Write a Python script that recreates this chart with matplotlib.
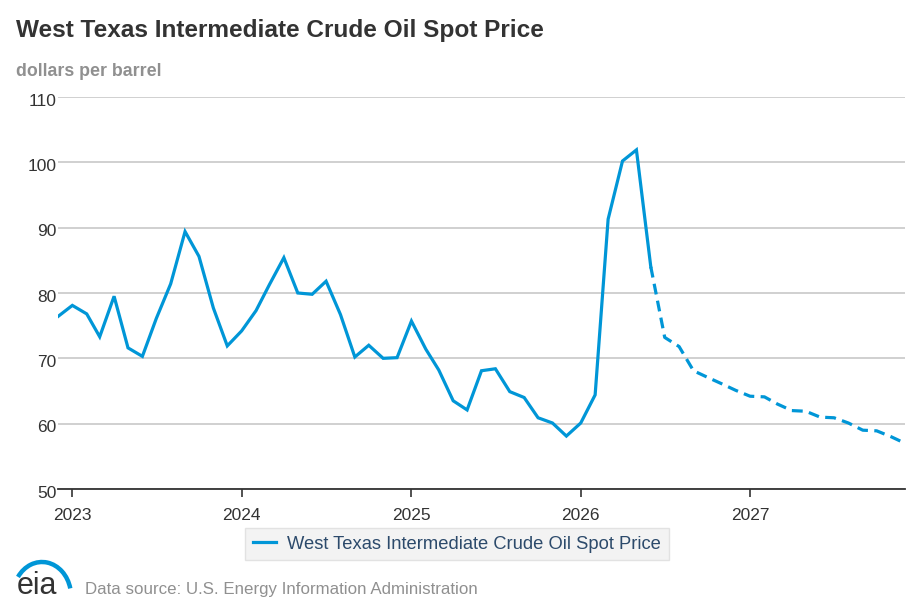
import numpy as np
import pandas as pd
import matplotlib
matplotlib.use("Agg")
import matplotlib.pyplot as plt
import matplotlib.dates as mdates
import matplotlib.transforms as mtransforms
from matplotlib.patches import Arc
from matplotlib.lines import Line2D

plt.rcParams['font.family'] = ['Liberation Sans', 'DejaVu Sans']

# monthly WTI spot price, Dec 2022 - Dec 2027 (dollars per barrel)
months = pd.date_range('2022-12-01', '2027-12-01', freq='MS')
price = [76.4,
         78.1, 76.8, 73.3, 79.5, 71.6, 70.3, 76.1, 81.4, 89.4, 85.6, 77.7, 71.9,
         74.2, 77.3, 81.3, 85.4, 80.0, 79.8, 81.8, 76.7, 70.2, 72.0, 70.0, 70.1,
         75.7, 71.4, 68.2, 63.5, 62.1, 68.1, 68.4, 64.9, 64.0, 60.9, 60.1, 58.1,
         60.1, 64.4, 91.3, 100.2, 101.9, 84.0, 73.2, 71.8, 68.1, 67.1, 66.1, 65.1,
         64.2, 64.1, 63.0, 62.0, 61.9, 61.0, 60.9, 60.1, 59.0, 58.9, 58.0, 57.0]
last_hist = pd.Timestamp('2026-06-01')   # forecast starts after this month
series_name = 'West Texas Intermediate Crude Oil Spot Price'
yticks = [50, 60, 70, 80, 90, 100, 110]

df = pd.DataFrame({'date': months, 'price': price})
hist = df[df['date'] <= last_hist]
fcst = df[df['date'] >= last_hist]

blue = '#0096d7'
fig = plt.figure(figsize=(9.2, 6.13), dpi=100)
ax = fig.add_axes([0.063, 0.2023, 0.9207, 0.6395])

ax.plot(hist['date'], hist['price'], color=blue, lw=2.3, solid_joinstyle='miter')
fl, = ax.plot(fcst['date'], fcst['price'], color=blue, lw=2.3)
fl.set_dashes([3.4, 2.0])

ax.set_xlim(months[0], months[-1])
ax.set_ylim(50, 110)
ax.set_yticks(yticks)
ax.grid(axis='y', color='#c8c8c8', lw=1.2)
ax.set_axisbelow(True)
for s in ['top', 'right', 'left']:
    ax.spines[s].set_visible(False)
ax.spines['bottom'].set_color('#333333')
ax.spines['bottom'].set_linewidth(1.3)

ax.xaxis.set_major_locator(mdates.YearLocator())
ax.xaxis.set_major_formatter(mdates.DateFormatter('%Y'))
ax.tick_params(axis='x', length=6, width=1.2, color='#333333', labelsize=12.5,
               labelcolor='#333333', pad=8)
ax.tick_params(axis='y', length=0, labelsize=12.5, labelcolor='#333333', pad=1)
# y labels sit a touch below their gridlines
shift = mtransforms.ScaledTranslation(0, -2 / 72, fig.dpi_scale_trans)
for lab in ax.get_yticklabels():
    lab.set_transform(lab.get_transform() + shift)

fig.text(0.017, 0.951, 'West Texas Intermediate Crude Oil Spot Price', fontsize=17.6,
         fontweight='bold', color='#333333', va='center')
fig.text(0.017, 0.884, 'dollars per barrel', fontsize=12.8, fontweight='bold',
         color='#909090', va='center')

handle = Line2D([], [], color=blue, lw=2.3)
leg = fig.legend([handle], [series_name], loc='center', bbox_to_anchor=(0.4967, 0.1125),
                 fontsize=13.2, frameon=True, fancybox=False, handlelength=1.3,
                 handletextpad=0.6, borderpad=0.4)
leg.get_frame().set_facecolor('#f0f0f0')
leg.get_frame().set_edgecolor('#dddddd')
for t in leg.get_texts():
    t.set_color('#2c4a6b')

# eia logo and source note
fig.text(0.018, 1 - 594 / 613, 'eia', fontsize=22, color='#333333', va='baseline')
fig.patches.append(Arc((42 / 920, 1 - 596 / 613), 58 / 920, 68 / 613, theta1=22, theta2=130,
                       transform=fig.transFigure, color=blue, lw=3.2))
fig.text(0.092, 0.039, 'Data source: U.S. Energy Information Administration', fontsize=12.2,
         color='#909090', va='center')

fig.savefig('out.png', dpi=100)
